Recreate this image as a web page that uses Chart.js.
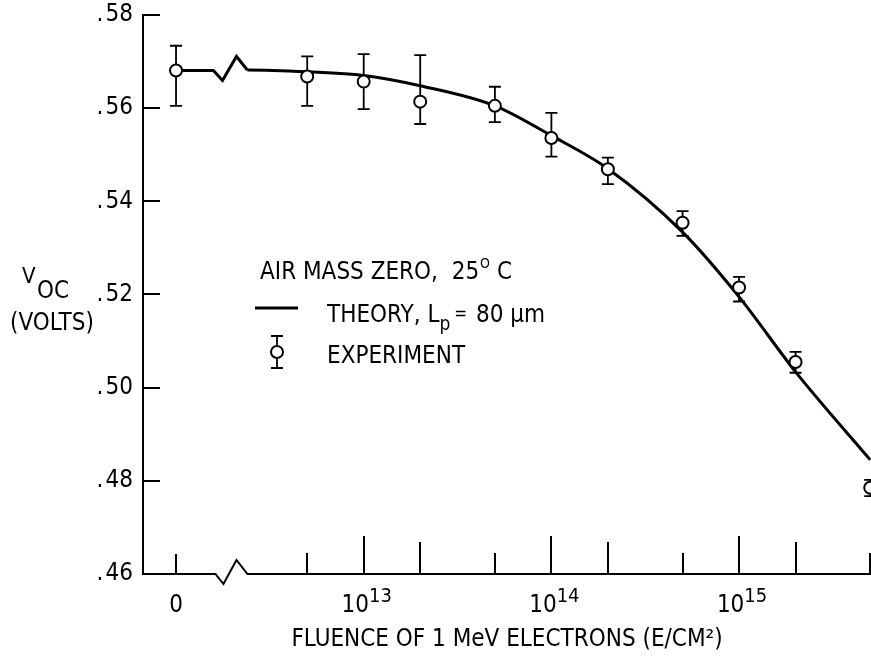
<!DOCTYPE html>
<html><head><meta charset="utf-8">
<script src="https://cdn.jsdelivr.net/npm/chart.js@4.4.1/dist/chart.umd.min.js"></script>
<style>html,body{margin:0;padding:0;background:#fff;overflow:hidden;}#wrap{width:871px;height:670px;position:relative;}canvas{display:block;}</style>
</head><body><div id="wrap"><canvas id="c" width="871" height="670"></canvas></div>
<script>
// ---- data ----
const fluence = [0, 5e12, 1e13, 2e13, 5e13, 1e14, 2e14, 5e14, 1e15, 2e15, 5e15];
const vocExperiment = [0.5681, 0.5668, 0.5657, 0.5614, 0.5605, 0.5536, 0.5469, 0.5354, 0.5215, 0.5055, 0.4785];
const vocErrHigh    = [0.5734, 0.5711, 0.5716, 0.5714, 0.5646, 0.5590, 0.5494, 0.5379, 0.5238, 0.5077, 0.4802];
const vocErrLow     = [0.5605, 0.5605, 0.5598, 0.5566, 0.5570, 0.5496, 0.5437, 0.5326, 0.5185, 0.5032, 0.4767];
const theoryFluence = [0, 2.4e12, 5e12, 1e13, 2e13, 5e13, 1e14, 2e14, 5e14, 1e15, 2e15, 5e15];
const vocTheory     = [0.5681, 0.5682, 0.5678, 0.5670, 0.5648, 0.5605, 0.5541, 0.5470, 0.5334, 0.5195, 0.5034, 0.4845];
const xTickFluence  = [0, 1e13, 1e14, 1e15];
const xTickBase     = ['0', '10', '10', '10'];
const xTickExponent = ['', '13', '14', '15'];
const xMinorFluence = [5e12, 2e13, 5e13, 2e14, 5e14, 2e15, 5e15];
const yTicks = [0.46, 0.48, 0.50, 0.52, 0.54, 0.56, 0.58];

// ---- layout constants ----
const FONT = '"Liberation Sans Narrow", "DejaVu Sans Condensed", "Liberation Sans", Arial, sans-serif';
const ZERO_POS = 12;      // axis position used for zero fluence (left of the break)
const BREAK_POS = 12.29;  // axis break location
const pos = f => f === 0 ? ZERO_POS : Math.log10(f);

const experimentPoints = fluence.map((f, i) => ({x: pos(f), y: vocExperiment[i]}));
const theoryPoints = theoryFluence.map((f, i) => ({x: pos(f), y: vocTheory[i]}));

const decor = {
  id: 'decor',
  beforeDatasetsDraw(chart) {
    const {ctx, chartArea: a, scales: {x, y}} = chart;
    ctx.save();
    ctx.strokeStyle = '#000';
    ctx.lineWidth = 2;
    yTicks.forEach(v => {
      const py = Math.round(y.getPixelForValue(v));
      ctx.beginPath(); ctx.moveTo(a.left, py); ctx.lineTo(a.left + 17, py); ctx.stroke();
    });
    const bc = x.getPixelForValue(BREAK_POS), by = a.bottom;
    ctx.beginPath();
    ctx.moveTo(a.left - 1, by); ctx.lineTo(bc - 15, by); ctx.lineTo(bc - 7, by + 10);
    ctx.lineTo(bc + 6, by - 14); ctx.lineTo(bc + 17, by); ctx.lineTo(a.right, by);
    ctx.stroke();
    xTickFluence.concat(xMinorFluence).forEach(f => {
      const px = Math.round(x.getPixelForValue(pos(f)));
      let len = 20;
      if (f > 0) {
        const m = Math.round(f / Math.pow(10, Math.floor(Math.log10(f) + 1e-9)));
        len = m === 1 ? 38 : (m === 2 ? 32 : 21);
      }
      ctx.beginPath(); ctx.moveTo(px, by); ctx.lineTo(px, by - len); ctx.stroke();
    });
    // x tick labels (base with raised exponent)
    ctx.fillStyle = '#000'; ctx.textBaseline = 'alphabetic'; ctx.textAlign = 'left';
    xTickFluence.forEach((f, i) => {
      const px = x.getPixelForValue(pos(f));
      ctx.font = '24px ' + FONT;
      const wb = ctx.measureText(xTickBase[i]).width;
      ctx.font = '20px ' + FONT;
      const we = xTickExponent[i] ? ctx.measureText(xTickExponent[i]).width : 0;
      const start = px + (xTickExponent[i] ? 3 : 0) - (wb + we) / 2;
      ctx.font = '24px ' + FONT;
      ctx.fillText(xTickBase[i], start, by + 38);
      if (xTickExponent[i]) { ctx.font = '20px ' + FONT; ctx.fillText(xTickExponent[i], start + wb, by + 28); }
    });
    ctx.lineWidth = 1.8;
    fluence.forEach((f, i) => {
      const px = x.getPixelForValue(pos(f));
      const t = y.getPixelForValue(vocErrHigh[i]), b = y.getPixelForValue(vocErrLow[i]);
      ctx.beginPath();
      ctx.moveTo(px, t); ctx.lineTo(px, b);
      ctx.moveTo(px - 6, t); ctx.lineTo(px + 6, t);
      ctx.moveTo(px - 6, b); ctx.lineTo(px + 6, b);
      ctx.stroke();
    });
    const x0 = x.getPixelForValue(theoryPoints[0].x), y0 = y.getPixelForValue(theoryPoints[0].y);
    const x1 = x.getPixelForValue(theoryPoints[1].x), y1 = y.getPixelForValue(theoryPoints[1].y);
    ctx.lineWidth = 3;
    ctx.beginPath();
    ctx.moveTo(x0, y0); ctx.lineTo(bc - 17, y0); ctx.lineTo(bc - 8, y0 + 10);
    ctx.lineTo(bc + 6, y0 - 14); ctx.lineTo(x1, y1);
    ctx.stroke();
    ctx.restore();
  },
  afterDraw(chart) {
    const ctx = chart.ctx;
    ctx.save();
    ctx.fillStyle = '#000'; ctx.strokeStyle = '#000';
    ctx.textBaseline = 'alphabetic'; ctx.textAlign = 'left';
    const txt = (s, px, py, size) => { ctx.font = size + 'px ' + FONT; ctx.fillText(s, px, py); return px + ctx.measureText(s).width; };
    // legend
    let cx = txt('AIR MASS ZERO,  25', 260, 279, 24);
    cx = txt('O', cx + 1, 268, 14);
    txt(' C', cx, 279, 24);
    ctx.lineWidth = 3;
    ctx.beginPath(); ctx.moveTo(255, 308); ctx.lineTo(298, 308); ctx.stroke();
    cx = txt('THEORY, L', 327, 322, 24);
    cx = txt('p', cx, 330, 19);
    cx = txt('=', cx + 4, 319, 17);
    txt(' 80 \u00B5m', cx + 2, 322, 24);
    ctx.lineWidth = 1.8;
    ctx.beginPath();
    ctx.moveTo(277, 336); ctx.lineTo(277, 368);
    ctx.moveTo(271, 336); ctx.lineTo(283, 336);
    ctx.moveTo(271, 368); ctx.lineTo(283, 368);
    ctx.stroke();
    ctx.lineWidth = 2;
    ctx.fillStyle = '#fff';
    ctx.beginPath(); ctx.arc(277, 352, 6, 0, Math.PI * 2); ctx.fill(); ctx.stroke();
    ctx.fillStyle = '#000';
    txt('EXPERIMENT', 327, 363, 24);
    // y-axis title
    txt('V', 22, 283, 22);
    txt('OC', 37, 298, 24);
    txt('(VOLTS)', 10, 330, 24);
    ctx.restore();
  }
};

new Chart(document.getElementById('c'), {
  type: 'scatter',
  data: {
    datasets: [
      {
        label: 'EXPERIMENT',
        data: experimentPoints,
        showLine: false,
        pointRadius: 6,
        pointHoverRadius: 6,
        pointBorderWidth: 2,
        pointBackgroundColor: '#fff',
        pointBorderColor: '#000',
        clip: false
      },
      {
        label: 'THEORY, Lp = 80 \u00B5m',
        data: theoryPoints,
        showLine: true,
        borderColor: '#000',
        borderWidth: 3,
        pointRadius: 0,
        cubicInterpolationMode: 'monotone',
        segment: { borderColor: c => c.p0DataIndex === 0 ? 'rgba(0,0,0,0)' : '#000' },
        clip: false
      }
    ]
  },
  options: {
    responsive: false,
    animation: false,
    events: [],
    layout: { autoPadding: false, padding: { top: 15, right: 0, left: 0, bottom: 0 } },
    plugins: { legend: { display: false }, tooltip: { enabled: false }, title: { display: false } },
    scales: {
      x: {
        type: 'linear', position: 'bottom',
        min: 11.824, max: 15.703,
        grid: { display: false, drawTicks: false },
        border: { display: false },
        afterBuildTicks: s => { s.ticks = xTickFluence.map(f => ({value: pos(f)})); },
        afterFit: s => { s.height = 96; },
        ticks: { display: false },
        title: {
          display: true, text: 'FLUENCE OF 1 MeV ELECTRONS (E/CM\u00B2)',
          color: '#000', font: { family: FONT, size: 24 },
          padding: { top: 0, bottom: 16 }
        }
      },
      y: {
        type: 'linear', position: 'left',
        min: 0.46, max: 0.58,
        grid: { display: false, drawTicks: false },
        border: { display: true, color: '#000', width: 2 },
        afterBuildTicks: s => { s.ticks = yTicks.map(v => ({value: v})); },
        afterFit: s => { s.width = 143; },
        ticks: {
          callback: v => '.\u200A' + Math.round(v * 100),
          padding: 10, color: '#000', font: { family: FONT, size: 24, lineHeight: 0.3 }
        }
      }
    }
  },
  plugins: [decor]
});
</script></body></html>
